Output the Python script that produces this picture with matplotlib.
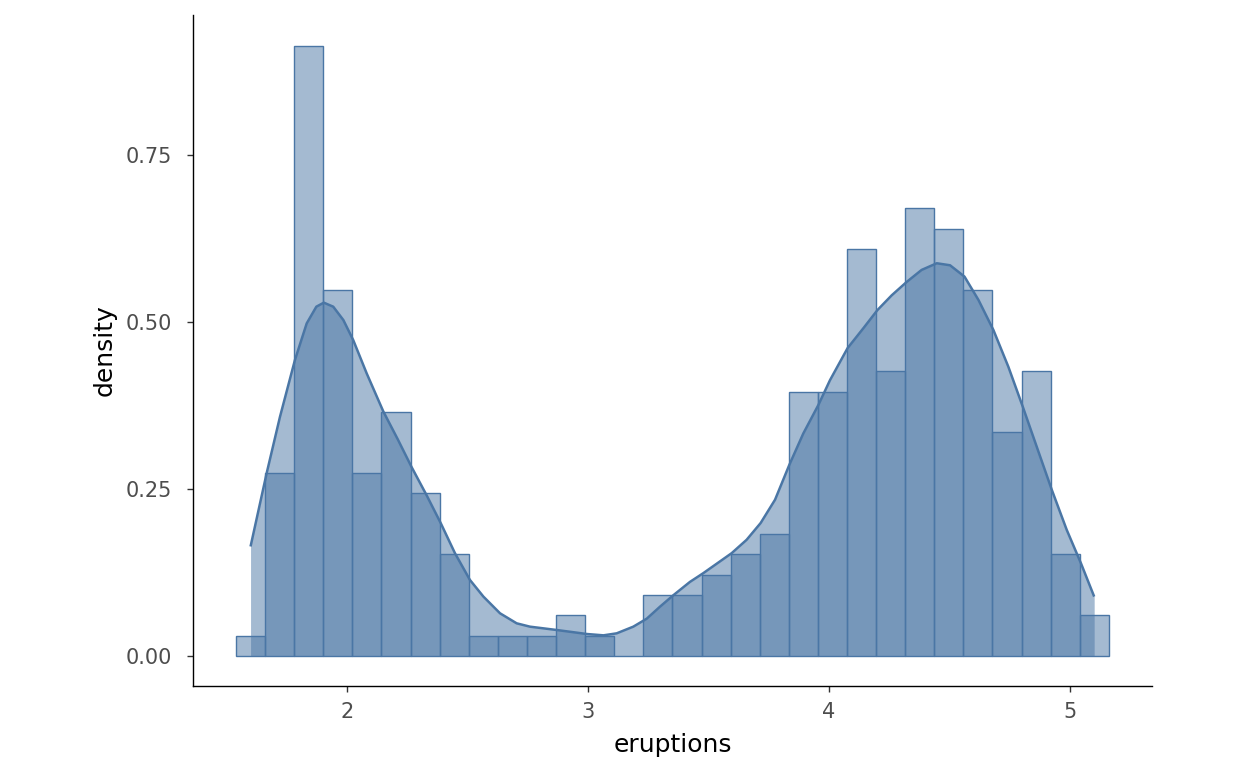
import matplotlib
matplotlib.use("Agg")
import matplotlib.pyplot as plt
import numpy as np

# histogram of eruption durations, 30 bins (density scale)
bin_width = 0.1207
bin_start = 1.5397
counts = [1, 9, 30, 18, 9, 12, 8, 5, 1, 1, 1, 2, 1, 0, 3,
          3, 4, 5, 6, 13, 13, 20, 14, 22, 21, 18, 11, 14, 5, 2]
n_obs = 272

# density curve
dens_x = [1.600, 1.667, 1.722, 1.784, 1.833, 1.873, 1.904, 1.943, 1.985, 2.026,
          2.082, 2.151, 2.210, 2.268, 2.330, 2.389, 2.448, 2.510, 2.566, 2.635,
          2.704, 2.759, 2.870, 2.995, 3.064, 3.119, 3.188, 3.244, 3.299, 3.354,
          3.423, 3.478, 3.537, 3.596, 3.658, 3.716, 3.776, 3.835, 3.893, 3.956,
          4.004, 4.077, 4.143, 4.201, 4.260, 4.322, 4.384, 4.447, 4.502, 4.562,
          4.620, 4.682, 4.744, 4.804, 4.862, 4.924, 4.986, 5.045, 5.100]
dens_y = [0.164, 0.274, 0.358, 0.443, 0.498, 0.523, 0.529, 0.523, 0.503, 0.473,
          0.423, 0.366, 0.325, 0.283, 0.241, 0.199, 0.154, 0.114, 0.089, 0.064,
          0.049, 0.044, 0.039, 0.033, 0.031, 0.034, 0.044, 0.056, 0.074, 0.091,
          0.111, 0.124, 0.139, 0.154, 0.174, 0.199, 0.234, 0.286, 0.333, 0.376,
          0.413, 0.461, 0.491, 0.518, 0.540, 0.560, 0.578, 0.588, 0.585, 0.568,
          0.533, 0.488, 0.433, 0.373, 0.313, 0.249, 0.189, 0.139, 0.089]

xticks = [2, 3, 4, 5]
yticks = [0.00, 0.25, 0.50, 0.75]
ytick_labels = ["0.00", "0.25", "0.50", "0.75"]

col = "#4A76A5"

fig = plt.figure(figsize=(12.48, 7.71), dpi=100, facecolor="white")
ax = fig.add_axes([0.1546, 0.1102, 0.9231 - 0.1546, 0.9805 - 0.1102])

edges = bin_start + bin_width * np.arange(len(counts) + 1)
heights = np.array(counts) / (n_obs * bin_width)
ax.bar(edges[:-1], heights, width=bin_width, align="edge",
       color=col, alpha=0.5, edgecolor="none", zorder=2)
ax.bar(edges[:-1], heights, width=bin_width, align="edge",
       fill=False, edgecolor=col, linewidth=1.0, zorder=3)

ax.fill_between(dens_x, dens_y, 0, color=col, alpha=0.5, linewidth=0, zorder=4)
ax.plot(dens_x, dens_y, color=col, linewidth=1.8, zorder=5,
        solid_joinstyle="round", solid_capstyle="butt")

ax.set_xlim(1.361, 5.340)
ax.set_ylim(-0.0449, 0.9596)
ax.set_xticks(xticks)
ax.set_xticklabels([str(t) for t in xticks])
ax.set_yticks(yticks)
ax.set_yticklabels(ytick_labels)

for s in ["top", "right"]:
    ax.spines[s].set_visible(False)
for s in ["left", "bottom"]:
    ax.spines[s].set_color("black")
    ax.spines[s].set_linewidth(1.0)

ax.tick_params(axis="both", colors="#333333", length=4.5, width=1.0,
               labelsize=15, labelcolor="#4D4D4D")
ax.tick_params(axis="x", pad=7)
ax.tick_params(axis="y", pad=10.5)

ax.set_xlabel("eruptions", fontsize=18, color="black", labelpad=8)
ax.set_ylabel("density", fontsize=18, color="black", labelpad=6.5)

fig.savefig("out.png", dpi=100)
